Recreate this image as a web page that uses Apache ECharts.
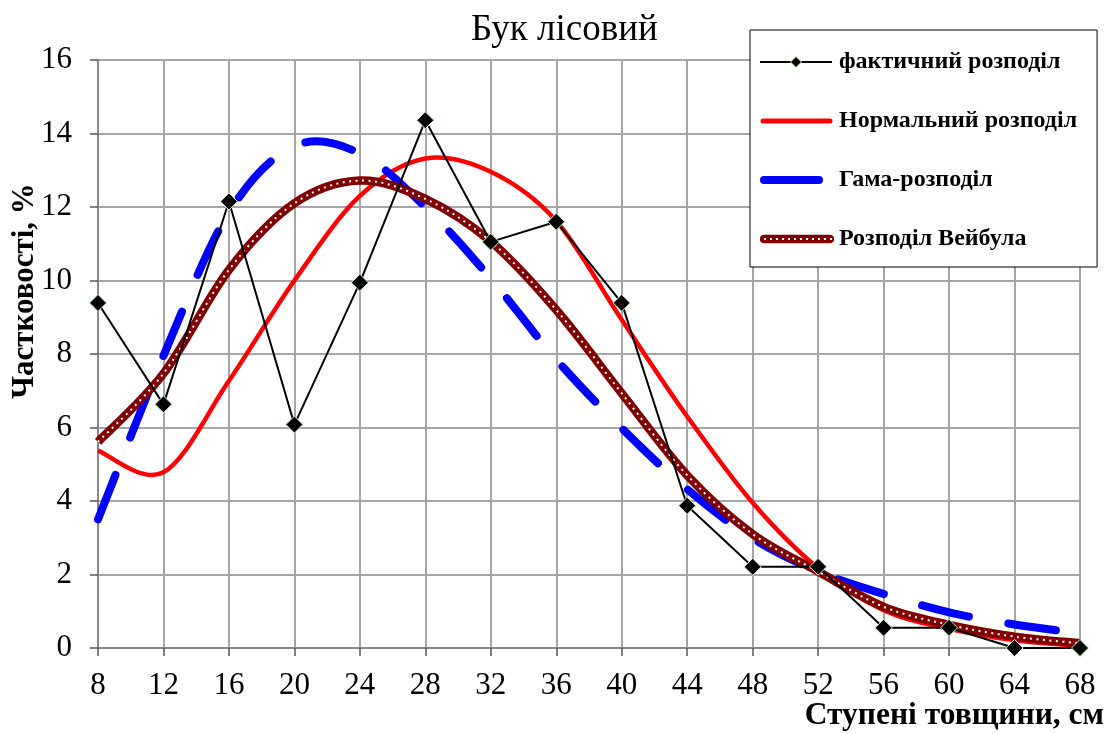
<!DOCTYPE html>
<html>
<head>
<meta charset="utf-8">
<title>Бук лісовий</title>
<script src="https://cdn.jsdelivr.net/npm/echarts@6/dist/echarts.min.js"></script>
<style>
  html, body { margin: 0; padding: 0; background: #fff; }
  #chart { width: 1112px; height: 734px; }
</style>
</head>
<body>
<div id="chart"></div>
<script>
// Diameter classes, cm
const categories = ['8', '12', '16', '20', '24', '28', '32', '36', '40', '44', '48', '52', '56', '60', '64', '68'];
const yTicks = { min: 0, max: 16, interval: 2 };

// Observed frequencies, %
const actual = [9.39, 6.63, 12.15, 6.08, 9.94, 14.36, 11.05, 11.60, 9.39, 3.87, 2.21, 2.21, 0.55, 0.55, 0, 0];
// Fitted distributions, %
const normal = [5.37, 4.78, 7.27, 10.0, 12.3, 13.32, 12.96, 11.62, 8.93, 6.3, 3.95, 2.17, 1.03, 0.52, 0.21, 0.06];
const gamma = [3.5, 7.95, 11.85, 13.66, 13.46, 12.0, 10.05, 7.85, 5.98, 4.32, 2.98, 2.08, 1.47, 0.97, 0.64, 0.4];
const weibull = [5.61, 7.47, 10.29, 12.1, 12.72, 12.22, 11.06, 9.2, 6.93, 4.7, 3.1, 2.08, 1.12, 0.63, 0.31, 0.13];

const names = ['фактичний розподіл', 'Нормальний розподіл', 'Гама-розподіл', 'Розподіл Вейбула'];

const SERIF = '"Liberation Serif", "Times New Roman", "DejaVu Serif", serif';
const RED = '#ff0000';
const BLUE = '#0000ff';
const WEIBULL_COLOR = '#800000';

// ---- legend swatches (SVG) ----
function svgIcon(body) {
  const svg = '<svg xmlns="http://www.w3.org/2000/svg" width="74" height="14" viewBox="0 0 74 14">' + body + '</svg>';
  return 'image://data:image/svg+xml;charset=utf-8,' + encodeURIComponent(svg);
}
const iconActual = svgIcon(
  '<line x1="0" y1="7" x2="72" y2="7" stroke="#000" stroke-width="2"/>' +
  '<path d="M36 1.5 L41.5 7 L36 12.5 L30.5 7 Z" fill="#000" stroke="#c8f5c8" stroke-width="1"/>'
);
const iconNormal = svgIcon('<line x1="3" y1="7" x2="70" y2="7" stroke="' + RED + '" stroke-width="5" stroke-linecap="round"/>');
const iconGamma = svgIcon('<line x1="4" y1="7" x2="59" y2="7" stroke="' + BLUE + '" stroke-width="8" stroke-linecap="round"/>');
const iconWeibull = (function () {
  let dots = '';
  for (let x = 4; x < 72; x += 6) dots += '<rect x="' + x + '" y="6" width="2" height="2" fill="#fff"/>';
  return svgIcon('<line x1="4" y1="7" x2="70" y2="7" stroke="' + WEIBULL_COLOR + '" stroke-width="8.5" stroke-linecap="round"/>' + dots);
})();

// ---- smoothed curve through category points (Catmull-Rom / Bezier) ----
function smoothPath(pts) {
  let d = 'M' + pts[0][0] + ' ' + pts[0][1];
  for (let i = 0; i < pts.length - 1; i++) {
    const p0 = pts[i - 1] || pts[i];
    const p1 = pts[i];
    const p2 = pts[i + 1];
    const p3 = pts[i + 2] || pts[i + 1];
    const c1x = p1[0] + (p2[0] - p0[0]) / 6;
    const c1y = p1[1] + (p2[1] - p0[1]) / 6;
    const c2x = p2[0] - (p3[0] - p1[0]) / 6;
    const c2y = p2[1] - (p3[1] - p1[1]) / 6;
    d += ' C' + c1x + ' ' + c1y + ' ' + c2x + ' ' + c2y + ' ' + p2[0] + ' ' + p2[1];
  }
  return d;
}

function curveSeries(name, values, strokeStyle, z, color) {
  return {
    name: name,
    type: 'custom',
    coordinateSystem: 'cartesian2d',
    z: z,
    silent: true,
    itemStyle: { color: color },
    data: values.map(function (v, i) { return [i, v]; }),
    encode: { x: 0, y: 1 },
    renderItem: function (params, api) {
      if (params.dataIndex !== 0) return null;
      const pts = values.map(function (v, i) { return api.coord([i, v]); });
      return {
        type: 'path',
        shape: { pathData: smoothPath(pts) },
        style: Object.assign({ fill: 'none' }, strokeStyle)
      };
    }
  };
}

const chart = echarts.init(document.getElementById('chart'), null, { renderer: 'canvas' });

const option = {
  animation: false,
  backgroundColor: '#fff',
  title: {
    text: 'Бук лісовий',
    left: 466,
    top: 7,
    textStyle: { fontFamily: SERIF, fontSize: 37, fontWeight: 'normal', color: '#000' }
  },
  grid: { left: 98, right: 32, top: 60, bottom: 86, containLabel: false },
  legend: {
    orient: 'vertical',
    left: 750,
    top: 30,
    padding: [20, 20, 16, 10],
    itemGap: 35,
    itemWidth: 74,
    itemHeight: 14,
    backgroundColor: '#fff',
    borderColor: '#000',
    borderWidth: 1,
    textStyle: { fontFamily: SERIF, fontSize: 24, fontWeight: 'bold', color: '#000', lineHeight: 24 },
    data: [
      { name: names[0], icon: iconActual },
      { name: names[1], icon: iconNormal },
      { name: names[2], icon: iconGamma },
      { name: names[3], icon: iconWeibull }
    ]
  },
  xAxis: {
    type: 'category',
    data: categories,
    boundaryGap: false,
    axisLine: { lineStyle: { color: '#7f7f7f', width: 1.5 } },
    axisTick: { show: true, length: 8, lineStyle: { color: '#555', width: 1.5 } },
    axisLabel: { fontFamily: SERIF, fontSize: 31, color: '#000', margin: 22, interval: 0 },
    splitLine: { show: true, interval: 0, lineStyle: { color: '#a6a6a6', width: 2 } }
  },
  yAxis: {
    type: 'value',
    min: yTicks.min,
    max: yTicks.max,
    interval: yTicks.interval,
    axisLine: { show: true, lineStyle: { color: '#7f7f7f', width: 1.5 } },
    axisTick: { show: true, length: 8, lineStyle: { color: '#555', width: 1.5 } },
    axisLabel: { fontFamily: SERIF, fontSize: 31, color: '#000', margin: 26 },
    splitLine: { show: true, lineStyle: { color: '#a6a6a6', width: 2 } }
  },
  graphic: [
    {
      type: 'text',
      x: 25,
      y: 291,
      rotation: Math.PI / 2,
      style: {
        text: 'Частковості, %',
        font: 'bold 31px ' + SERIF,
        fill: '#000',
        textAlign: 'center',
        textVerticalAlign: 'middle'
      }
    },
    {
      type: 'text',
      x: 1104,
      y: 716,
      style: {
        text: 'Ступені товщини, см',
        font: 'bold 31.5px ' + SERIF,
        fill: '#000',
        textAlign: 'right',
        textVerticalAlign: 'middle'
      }
    }
  ],
  series: [
    curveSeries(names[1], normal, { stroke: RED, lineWidth: 4.5, lineJoin: 'round' }, 2, RED),
    curveSeries(names[2], gamma, { stroke: BLUE, lineWidth: 8, lineDash: [48, 40], lineCap: 'round' }, 3, BLUE),
    curveSeries(names[3], weibull, { stroke: WEIBULL_COLOR, lineWidth: 8.5 }, 4, WEIBULL_COLOR),
    // white dotted core along the Weibull curve
    curveSeries('weibull-dots', weibull, { stroke: '#ffffff', lineWidth: 2, lineDash: [2, 4.5] }, 5, '#ffffff'),
    {
      name: names[0],
      type: 'line',
      data: actual,
      symbol: 'diamond',
      symbolSize: 17,
      z: 6,
      lineStyle: { color: '#000', width: 2 },
      itemStyle: { color: '#000', borderColor: '#c8f5c8', borderWidth: 1 }
    }
  ]
};

chart.setOption(option);
</script>
</body>
</html>
